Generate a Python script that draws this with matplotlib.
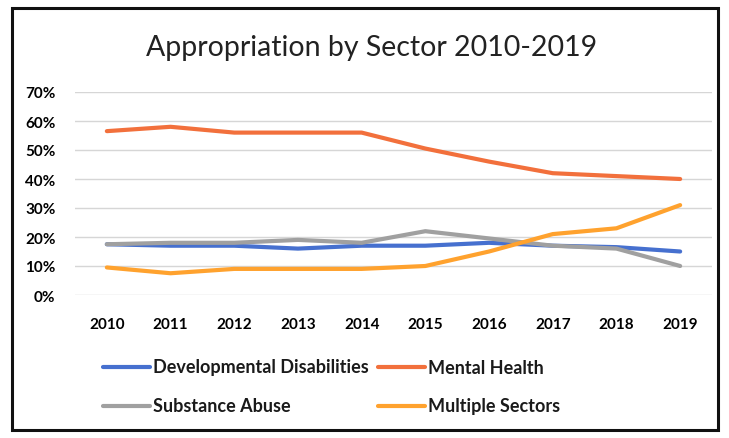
import matplotlib.pyplot as plt
from matplotlib.patches import Rectangle
from matplotlib.lines import Line2D
from matplotlib.ticker import FuncFormatter

plt.rcParams['font.family'] = ['Lato', 'DejaVu Sans']

# Data (percent)
years = ['2010', '2011', '2012', '2013', '2014', '2015', '2016', '2017', '2018', '2019']
dev_disabilities = [17.5, 17, 17, 16, 17, 17, 18, 17, 16.5, 15]
mental_health = [56.5, 58, 56, 56, 56, 50.5, 46, 42, 41, 40]
substance_abuse = [17.5, 18, 18, 19, 18, 22, 19.5, 17, 16, 10]
multiple_sectors = [9.5, 7.5, 9, 9, 9, 10, 15, 21, 23, 31]

series = [
    ('Developmental Disabilities', dev_disabilities, '#4670CF'),
    ('Mental Health', mental_health, '#F2703C'),
    ('Substance Abuse', substance_abuse, '#A0A0A0'),
    ('Multiple Sectors', multiple_sectors, '#FFA22E'),
]

fig = plt.figure(figsize=(7.29, 4.39), dpi=100)
W, H = 729, 439
ax = fig.add_axes([75 / W, 1 - 296 / H, (712 - 75) / W, (296 - 93) / H])

x = range(len(years))
for name, vals, color in series:
    ax.plot(x, vals, color=color, lw=3, solid_capstyle='round', label=name, zorder=3)

ax.set_xlim(-0.5, len(years) - 0.5)
ax.set_ylim(0, 70)
ax.set_yticks(range(0, 71, 10))
ax.yaxis.set_major_formatter(FuncFormatter(lambda v, p: f'{int(v)}%'))
ax.set_xticks(list(x))
ax.set_xticklabels(years)
ax.tick_params(axis='both', length=0, labelsize=11)
ax.tick_params(axis='y', pad=14)
ax.tick_params(axis='x', pad=16)
for lbl in ax.get_xticklabels() + ax.get_yticklabels():
    lbl.set_fontweight('bold')
ax.grid(True, axis='y', color='#D6D6D6', lw=1)
for s in ax.spines.values():
    s.set_visible(False)

fig.text(372 / W, 1 - 48 / H, 'Appropriation by Sector 2010-2019', ha='center', va='center',
         fontsize=20.5, color='#222222')

# legend, laid out by hand: two columns, two rows
leg_pos = {
    'Developmental Disabilities': (103, 368),
    'Mental Health': (378, 368),
    'Substance Abuse': (103, 407),
    'Multiple Sectors': (378, 407),
}
for name, vals, color in series:
    lx, ly = leg_pos[name]
    fig.add_artist(Line2D([lx / W, (lx + 47) / W], [1 - ly / H, 1 - ly / H],
                          transform=fig.transFigure, color=color, lw=3,
                          solid_capstyle='round'))
    fig.text((lx + 50) / W, 1 - ly / H, name, ha='left', va='center',
             fontsize=13, fontweight='bold', color='#1A1A1A')

fig.patches.append(Rectangle((12 / W, 8 / H), (718 - 12) / W, (430 - 8) / H,
                             transform=fig.transFigure, fill=False, ec='#111111', lw=2.2))

fig.savefig('out.png', dpi=100)
